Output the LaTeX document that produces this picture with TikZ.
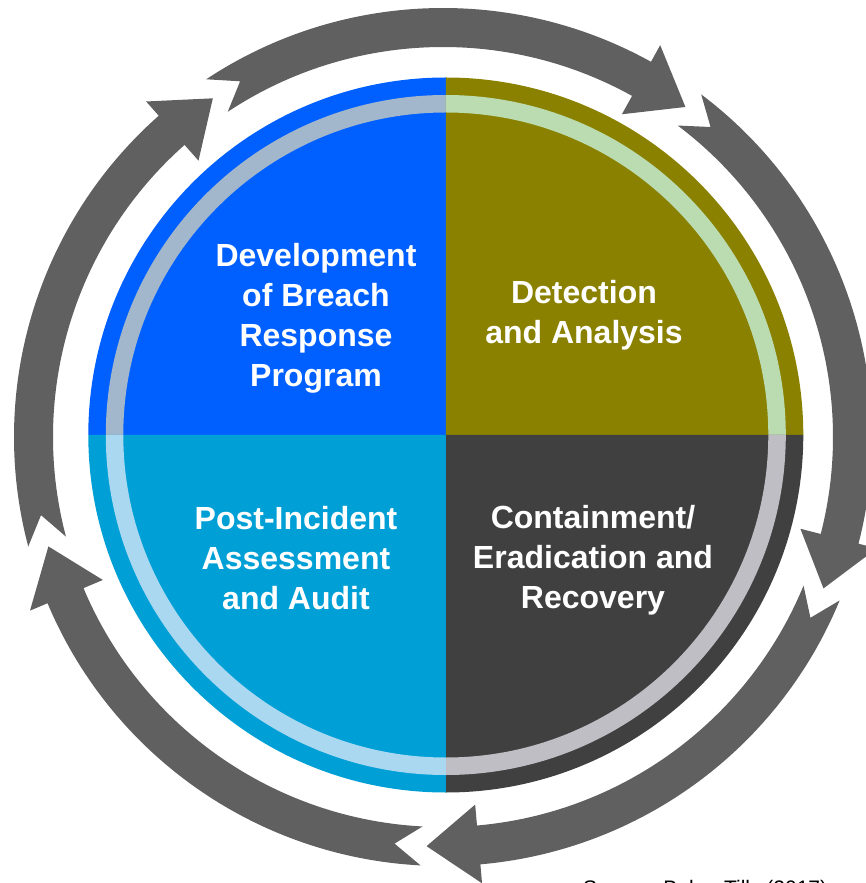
\documentclass[tikz,border=0pt]{standalone}
\usepackage{fontspec}
\setmainfont{Liberation Sans}
\definecolor{qblue}{RGB}{0,96,255}
\definecolor{qolive}{RGB}{138,129,0}
\definecolor{qdark}{RGB}{64,64,64}
\definecolor{qcyan}{RGB}{0,160,214}
\definecolor{ringblue}{RGB}{162,182,204}
\definecolor{ringolive}{RGB}{186,220,176}
\definecolor{ringdark}{RGB}{190,190,196}
\definecolor{ringcyan}{RGB}{170,216,240}
\definecolor{arrowgray}{RGB}{96,96,96}
\begin{document}
\begin{tikzpicture}[x=1pt,y=1pt,
  phasetext/.style={text=white, font=\fontsize{32}{40}\selectfont\bfseries, align=center, inner sep=0pt},
  cyclearrow/.style={fill=arrowgray, draw=none},
  sourcetext/.style={text=black, font=\fontsize{21}{25}\selectfont, inner sep=0pt}]
\clip (-445,-448) rectangle (421,435);

% four quadrants of the disc, with the light inner ring over each one
\begin{scope}[shift={(0.8,0)}]
  \foreach \a/\qc/\rc in {90/qblue/ringblue, 0/qolive/ringolive, -90/qdark/ringdark, 180/qcyan/ringcyan}{
    \fill[\qc] (0,0) -- (\a:357.5pt) arc[start angle=\a, delta angle=90, radius=357.5pt] -- cycle;
    \fill[\rc] (\a:340pt) arc[start angle=\a, delta angle=90, radius=340pt]
      -- ({\a+90}:322.5pt) arc[start angle={\a+90}, delta angle=-90, radius=322.5pt] -- cycle;
  }
\end{scope}

% five clockwise arrows around the disc: notched tail, curved body, head
\begin{scope}[shift={(-2,-2)}]
  \foreach \s/\t [evaluate=\t as \b using \t+7.3, evaluate=\s as \n using \s-3.8]
      in {123.5/53.7, 53.0/-21.7, -22.4/-92.3, -93.0/-164.5, 194.8/124.2}{
    \fill[cyclearrow] (\s:429pt) arc[start angle=\s, end angle=\b, radius=429pt]
      -- (\b:448pt) -- (\t:409.5pt) -- (\b:369pt) -- (\b:390pt)
      arc[start angle=\b, end angle=\s, radius=390pt] -- (\n:409.5pt) -- cycle;
  }
\end{scope}

% phase labels
\node[phasetext] (dev) at (-129,117) {Development\\of Breach\\Response\\Program};
\node[phasetext] (det) at (139,120) {Detection\\and Analysis};
\node[phasetext] (post) at (-149,-123) {Post-Incident\\Assessment\\and Audit};
\node[phasetext] (cont) at (148,-125) {Containment/\\Eradication and\\Recovery};

% citation line at the foot
\node[sourcetext, anchor=base west] (src) at (138,-460) {Source: Baker Tilly (2017)};
\end{tikzpicture}
\end{document}
